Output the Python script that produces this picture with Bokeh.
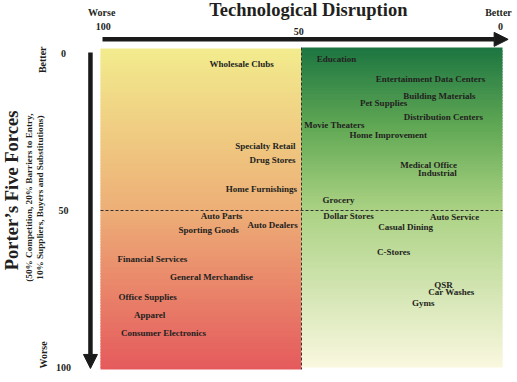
import numpy as np
from bokeh.plotting import figure
from bokeh.models import Range1d, Arrow, NormalHead, ColumnDataSource
from bokeh.core.properties import value
from bokeh.embed import file_html
from bokeh.resources import INLINE

# ---- data ----
sectors = ["Wholesale Clubs", "Specialty Retail", "Drug Stores", "Home Furnishings",
           "Auto Parts", "Sporting Goods", "Auto Dealers", "Financial Services",
           "General Merchandise", "Office Supplies", "Apparel", "Consumer Electronics",
           "Education", "Entertainment Data Centers", "Building Materials", "Pet Supplies",
           "Distribution Centers", "Movie Theaters", "Home Improvement", "Medical Office",
           "Industrial", "Grocery", "Dollar Stores", "Auto Service", "Casual Dining",
           "C-Stores", "QSR", "Car Washes", "Gyms"]
tech_disruption = [64.9, 59.0, 57.2, 60.0, 69.9, 73.1, 57.2, 87.1, 72.4, 88.3, 87.8, 84.3,
                   41.3, 17.9, 15.7, 29.6, 14.7, 41.8, 28.4, 18.4, 16.2, 40.8, 38.3, 11.9,
                   24.1, 27.1, 14.7, 12.7, 19.7]
porter_score = [3.2, 29.6, 33.8, 43.3, 51.9, 56.1, 54.5, 65.6, 71.3, 77.4, 83.4, 88.9,
                1.9, 8.0, 13.4, 15.9, 20.1, 22.9, 26.1, 35.4, 38.2, 46.5, 51.9, 52.2,
                55.1, 63.1, 73.6, 76.1, 79.3]
axis_ticks = [0, 50, 100]
axis_tick_labels = ["0", "50", "100"]
x_title = "Technological Disruption"
y_title = "Porter\u2019s Five Forces"
y_subtitle = ["(50% Competition, 20% Barriers to Entry,",
              "10% Suppliers, Buyers and Substitutions)"]

FONT = "Liberation Serif"
TXT = "#231f20"

# whole canvas is the plot frame; data ranges extended beyond 0..100
p = figure(width=517, height=382, output_backend="svg", toolbar_location=None,
           x_range=Range1d(124.876, -3.731), y_range=Range1d(104.777, -16.879),
           min_border=0)
p.axis.visible = False
p.grid.visible = False
p.outline_line_color = None
p.background_fill_color = "white"
p.border_fill_color = "white"


def grad(stops, n):
    ts = np.linspace(0, 1, n)
    pos = [s[0] for s in stops]
    cols = np.array([[int(s[1][i:i + 2], 16) for i in (1, 3, 5)] for s in stops], float)
    out = []
    for t in ts:
        rgb = [np.interp(t, pos, cols[:, k]) for k in range(3)]
        out.append("#%02x%02x%02x" % tuple(int(round(c)) for c in rgb))
    return out


N = 110
left_stops = [(0.0, "#f2eb8d"), (0.5, "#edaf77"), (1.0, "#e55b5d")]
right_stops = [(0.0, "#1d7641"), (0.25, "#62a955"), (0.5, "#a9d182"), (1.0, "#f9f7de")]

for (x0, x1, yt, yb, stops) in [(100, 50, -1.6, 100.6, left_stops),
                                (50, 0, -1.9, 100.0, right_stops)]:
    edges = np.linspace(yt, yb, N + 1)
    bottoms = np.minimum(edges[1:] + 0.5, yb)
    p.quad(left=x0, right=x1, top=edges[:-1], bottom=bottoms,
           fill_color=grad(stops, N), line_color=None)

# dashed quadrant dividers
p.segment(x0=[50, 100], y0=[-1.9, 50], x1=[50, 0], y1=[100.6, 50],
          line_color="#333333", line_dash="3 2", line_width=1)

src = ColumnDataSource(dict(x=tech_disruption, y=porter_score, t=sectors))
p.text(x="x", y="y", text="t", source=src, text_font=value(FONT),
       text_font_size="9px", text_font_style="bold", text_color=TXT,
       text_align="center", text_baseline="middle")

# arrows
p.add_layout(Arrow(x_start=99.5, y_start=-4.5, x_end=-1.4, y_end=-4.5,
                   line_width=4.5, line_color="#1a1a1a",
                   end=NormalHead(size=14, fill_color="#1a1a1a", line_color="#1a1a1a")))
p.add_layout(Arrow(x_start=102.5, y_start=-0.3, x_end=102.5, y_end=100.3,
                   line_width=4.5, line_color="#1a1a1a",
                   end=NormalHead(size=14, fill_color="#1a1a1a", line_color="#1a1a1a")))


def lab(x, y, text, size, angle=0.0):
    p.text(x=[x], y=[y], text=[text], text_font=value(FONT), text_font_size=size,
           text_font_style="bold", text_color=TXT, text_align="center",
           text_baseline="middle", angle=angle)


# titles
lab(48.3, -13.8, x_title, "18.5px")
lab(122.1, 43.6, y_title, "18.5px", np.pi / 2)
lab(117.9, 45.9, y_subtitle[0], "9.2px", np.pi / 2)
lab(115.1, 45.9, y_subtitle[1], "9.2px", np.pi / 2)

# top axis labels (scale runs 100 -> 0 from left to right)
lab(99.7, -13.1, "Worse", "10px")
lab(1.0, -13.1, "Better", "10px")
top_y = {0: -8.6, 50: -7.0, 100: -8.6}
top_dx = {0: 0.5, 50: 0.7, 100: -0.7}
for t, s in zip(axis_ticks, axis_tick_labels):
    lab(t + top_dx[t], top_y[t], s, "10px")

# left axis labels
for t, s in zip(axis_ticks, axis_tick_labels):
    lab(109.2, t, s, "10px")
lab(114.4, 2.0, "Better", "10px", np.pi / 2)
lab(114.1, 96.0, "Worse", "10px", np.pi / 2)

open("out.html", "w").write(file_html(p, INLINE))
